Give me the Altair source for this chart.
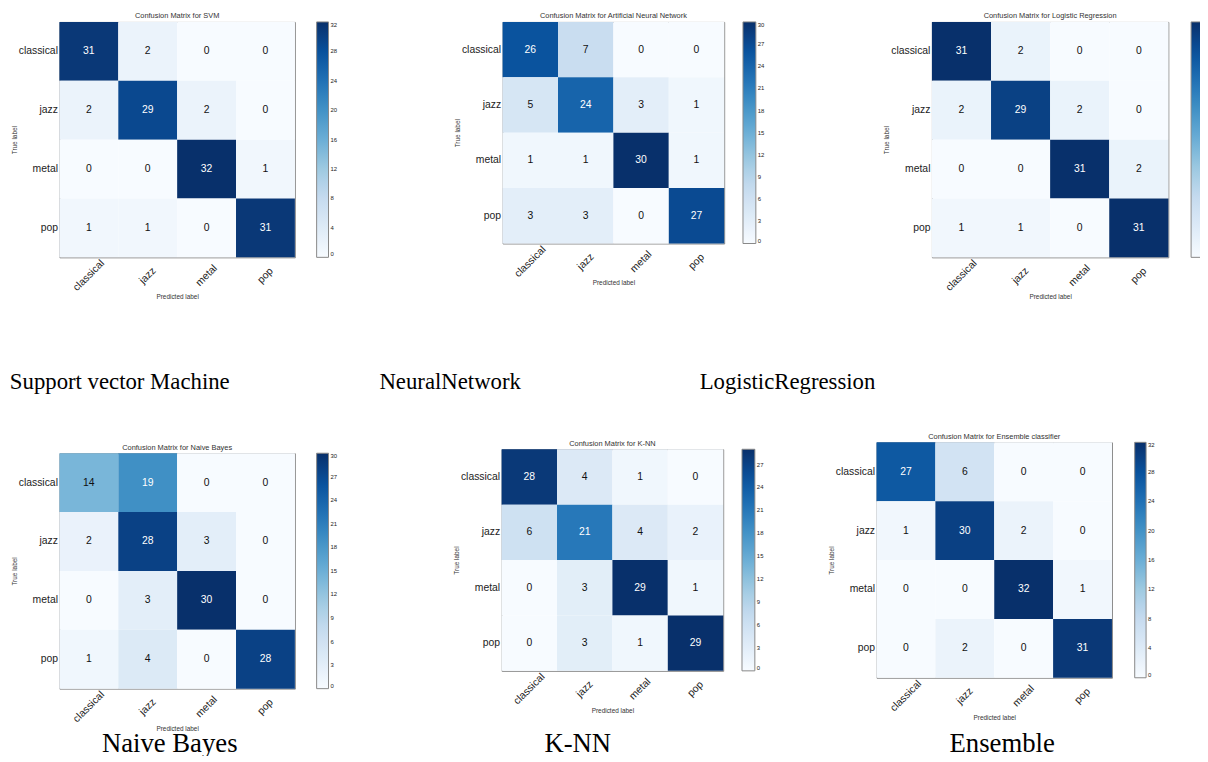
import altair as alt
import pandas as pd

classes = ["classical", "jazz", "metal", "pop"]

svm_values = [[31, 2, 0, 0], [2, 29, 2, 0], [0, 0, 32, 1], [1, 1, 0, 31]]
ann_values = [[26, 7, 0, 0], [5, 24, 3, 1], [1, 1, 30, 1], [3, 3, 0, 27]]
lr_values = [[31, 2, 0, 0], [2, 29, 2, 0], [0, 0, 31, 2], [1, 1, 0, 31]]
nb_values = [[14, 19, 0, 0], [2, 28, 3, 0], [0, 3, 30, 0], [1, 4, 0, 28]]
knn_values = [[28, 4, 1, 0], [6, 21, 4, 2], [0, 3, 29, 1], [0, 3, 1, 29]]
ens_values = [[27, 6, 0, 0], [1, 30, 2, 0], [0, 0, 32, 1], [0, 2, 0, 31]]

headings = [
    "Confusion Matrix for SVM",
    "Confusion Matrix for Artificial Neural Network",
    "Confusion Matrix for Logistic Regression",
    "Confusion Matrix for Naive Bayes",
    "Confusion Matrix for K-NN",
    "Confusion Matrix for Ensemble classifier",
]
captions = ["Support vector Machine", "NeuralNetwork", "LogisticRegression",
            "Naive Bayes", "K-NN", "Ensemble"]

svm_ticks = [0, 4, 8, 12, 16, 20, 24, 28, 32]
ann_ticks = [0, 3, 6, 9, 12, 15, 18, 21, 24, 27, 30]
lr_ticks = [0, 4, 8, 12, 16, 20, 24, 28]  # labels fall outside the picture
nb_ticks = [0, 3, 6, 9, 12, 15, 18, 21, 24, 27, 30]
knn_ticks = [0, 3, 6, 9, 12, 15, 18, 21, 24, 27]
ens_ticks = [0, 4, 8, 12, 16, 20, 24, 28, 32]

BLUES = ["#f7fbff", "#deebf7", "#c6dbef", "#9ecae1", "#6baed6",
         "#4292c6", "#2171b5", "#08519c", "#08306b"]

SANS = "Liberation Sans"
SERIF = "Liberation Serif"


def panel(values, heading, caption, ticks, w, h, leg_off, leg_thick,
          cap_x, cap_y, cap_size, hidden_labels=False):
    rows = []
    for i, t in enumerate(classes):
        for j, p in enumerate(classes):
            rows.append({"true": t, "pred": p, "n": values[i][j]})
    df = pd.DataFrame(rows)
    vmax = max(max(r) for r in values)
    domain = [vmax * k / 8 for k in range(9)]
    xscale = alt.Scale(paddingInner=0, paddingOuter=0)
    yscale = alt.Scale(paddingInner=0, paddingOuter=0)
    rect = alt.Chart(df).mark_rect().encode(
        x=alt.X("pred:N", sort=classes, scale=xscale,
                axis=alt.Axis(orient="bottom", title="Predicted label",
                              labelAngle=-45, labelAlign="center",
                              labelBaseline="middle", labelPadding=18,
                              labelFontSize=10.5, labelFont=SANS,
                              labelColor="#222", ticks=False, domain=False,
                              grid=False, titleFont=SANS, titleFontSize=6.5,
                              titleFontWeight="normal", titleColor="#333",
                              titlePadding=1)),
        y=alt.Y("true:N", sort=classes, scale=yscale,
                axis=alt.Axis(title="True label", labelFontSize=10.5,
                              labelFont=SANS, labelColor="#222",
                              labelPadding=2, ticks=False, domain=False,
                              grid=False, titleFont=SANS, titleFontSize=6.5,
                              titleFontWeight="normal", titleColor="#333",
                              titlePadding=1)),
        color=alt.Color("n:Q",
                        scale=alt.Scale(domain=domain, range=BLUES),
                        legend=alt.Legend(title=None, orient="right",
                                          offset=leg_off, padding=0,
                                          gradientLength=h,
                                          gradientThickness=leg_thick,
                                          gradientStrokeColor="#888",
                                          gradientStrokeWidth=1,
                                          values=ticks, labelFont=SANS,
                                          labelFontSize=6, labelOffset=2,
                                          labelColor="#222",
                                          labelOpacity=0 if hidden_labels else 1,
                                          labelBaseline="middle",
                                          labelOverlap=False)),
    )
    text = alt.Chart(df).mark_text(font=SANS, fontSize=10.5).encode(
        x=alt.X("pred:N", sort=classes, scale=xscale,
                axis=alt.Axis(orient="bottom", title=caption, labels=False,
                              ticks=False, domain=False, grid=False,
                              titleFont=SERIF, titleFontSize=cap_size,
                              titleFontWeight="normal", titleColor="#000",
                              titleX=cap_x, titleY=cap_y, titleAlign="center",
                              titleBaseline="alphabetic")),
        y=alt.Y("true:N", sort=classes, scale=yscale),
        text="n:Q",
        color=alt.condition(f"datum.n > {vmax / 2}", alt.value("#ffffff"),
                            alt.value("#111111")),
    )
    title = alt.Title(heading, font=SANS, fontSize=7.5, fontWeight="normal",
                      color="#333", offset=2, frame="group", anchor="middle")
    return alt.layer(rect, text).resolve_axis(x="independent").properties(
        width=w, height=h, title=title)


svm = panel(svm_values, headings[0], captions[0], svm_ticks, 238, 238, 22, 12,
            60.5, 132.5, 23)
ann = panel(ann_values, headings[1], captions[1], ann_ticks, 224, 224, 19, 13,
            -53.5, 147, 23)
lr = panel(lr_values, headings[2], captions[2], lr_ticks, 239, 238, 23, 12,
           -146.5, 133, 23, hidden_labels=True)
nb = panel(nb_values, headings[3], captions[3], nb_ticks, 238, 238, 22, 12,
           111, 63.5, 27)
knn = panel(knn_values, headings[4], captions[4], knn_ticks, 224, 224, 19, 13,
            76.5, 81.5, 27)
ens = panel(ens_values, headings[5], captions[5], ens_ticks, 238, 238, 23, 11.5,
            126.5, 74.5, 27)

# empty, invisible spacer that lowers the Naive Bayes panel a little
spacer = alt.Chart(pd.DataFrame({"n": []})).mark_point(opacity=0).properties(
    width=1, height=1, view=alt.ViewBackground(strokeOpacity=0))

row1 = alt.hconcat(svm, ann, lr, spacing=210, bounds="flush").resolve_scale(
    color="independent")
nb_wrap = alt.vconcat(spacer, nb, spacing=0).resolve_scale(color="independent")
inner = alt.hconcat(knn, ens, spacing=155, bounds="flush", center=True).resolve_scale(
    color="independent")
row2 = alt.hconcat(nb_wrap, inner, spacing=115).resolve_scale(color="independent")

chart = alt.vconcat(row1, row2, spacing=38).resolve_scale(
    color="independent"
).properties(
    padding={"left": 0, "top": 0, "right": -13, "bottom": -5},
    background="white",
).configure_view(stroke="#888", strokeWidth=1)

chart.save("out.html", embed_options={"renderer": "svg", "actions": False})
